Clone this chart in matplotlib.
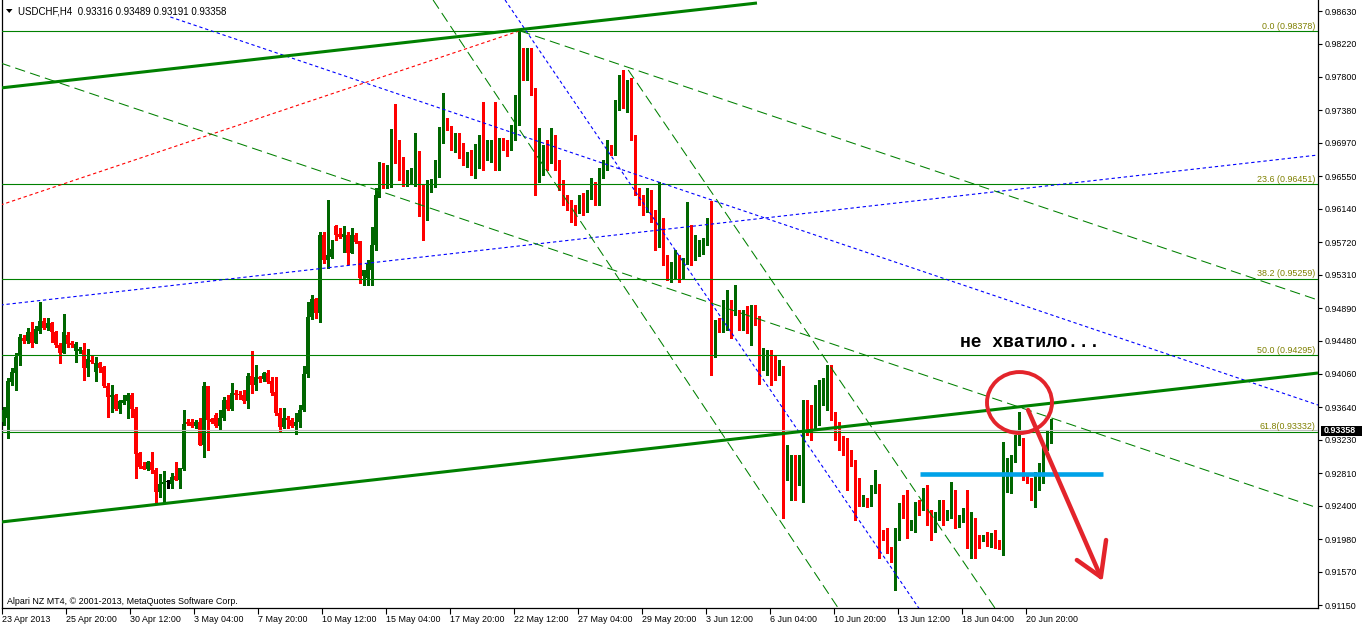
import matplotlib
matplotlib.use("Agg")
import matplotlib.pyplot as plt
from matplotlib.patches import Ellipse, Rectangle, Polygon
from matplotlib.transforms import blended_transform_factory
import numpy as np

# ---------------- data (USDCHF H4, prices in pips = 0.0001) ----------------
opens = [9345,9350,9396,9407,9428,9451,9447,9459,9445,9460,9473,9464,9470,9459,9442,9433,9455,9445,9435,9435,
         9436,9413,9423,9408,9420,9415,9391,9377,9379,9362,9370,9372,9379,9362,9306,9290,9286,9295,9285,9257,
         9267,9270,9268,9277,9273,9286,9345,9345,9341,9346,9317,9391,9349,9354,9340,9350,9373,9362,9382,9380,
         9380,9372,9403,9392,9402,9400,9407,9397,9383,9357,9339,9351,9348,9340,9345,9360,9406,9478,9500,9483,
         9581,9549,9553,9592,9582,9579,9581,9558,9581,9574,9529,9527,9537,9568,9630,9669,9641,9658,9693,9691,
         9678,9645,9651,9646,9685,9634,9614,9645,9646,9667,9698,9724,9715,9691,9703,9688,9676,9679,9660,9688,
         9697,9678,9676,9698,9678,9699,9694,9691,9707,9735,9813,9779,9813,9764,9659,9663,9688,9676,9701,9667,
         9647,9625,9619,9613,9613,9628,9615,9629,9644,9625,9659,9669,9691,9688,9745,9766,9747,9770,9704,9638,
         9624,9613,9635,9600,9591,9599,9547,9527,9531,9553,9531,9547,9591,9557,9558,9560,9571,9599,9450,9469,
         9463,9483,9494,9483,9484,9465,9483,9465,9487,9477,9415,9417,9432,9417,9407,9413,9287,9287,9289,9269,
         9298,9354,9354,9344,9346,9371,9367,9388,9352,9339,9323,9320,9305,9294,9269,9243,9247,9241,9260,9265,
         9203,9205,9186,9174,9199,9235,9230,9213,9215,9240,9238,9250,9228,9216,9226,9240,9226,9227,9257,9223,
         9223,9222,9193,9221,9201,9198,9201,9192,9199,9194,9189,9260,9260,9298,9319,9323,9276,9271,9266,9266,
         9279,9314,9331.6]
highs = [9365,9401,9413,9432,9456,9455,9464,9471,9466,9496,9476,9476,9471,9460,9445,9481,9459,9447,9446,9440,
         9445,9437,9430,9427,9421,9416,9394,9392,9381,9373,9379,9382,9382,9364,9308,9295,9296,9308,9287,9280,
         9284,9273,9281,9295,9287,9360,9349,9349,9348,9350,9396,9391,9351,9357,9360,9377,9379,9394,9386,9385,
         9386,9407,9435,9417,9404,9408,9411,9402,9402,9363,9363,9353,9350,9357,9367,9416,9496,9505,9502,9585,
         9585,9625,9575,9594,9590,9592,9585,9590,9584,9574,9537,9549,9591,9640,9673,9672,9669,9714,9746,9701,
         9679,9663,9665,9709,9687,9644,9650,9651,9675,9717,9760,9728,9718,9710,9710,9697,9686,9688,9696,9707,
         9749,9701,9701,9749,9703,9703,9701,9720,9757,9838,9817,9817,9817,9766,9716,9694,9701,9716,9707,9676,
         9650,9631,9625,9619,9631,9634,9638,9653,9648,9665,9676,9701,9694,9751,9783,9789,9776,9779,9707,9640,
         9631,9640,9638,9613,9648,9603,9556,9547,9562,9556,9552,9623,9594,9581,9575,9577,9603,9624,9474,9476,
         9499,9512,9499,9518,9487,9487,9492,9493,9493,9479,9439,9436,9436,9430,9424,9416,9316,9304,9304,9304,
         9373,9373,9367,9392,9399,9401,9417,9417,9358,9346,9328,9325,9310,9298,9275,9254,9250,9266,9285,9268,
         9210,9212,9188,9212,9243,9254,9260,9222,9245,9247,9262,9266,9235,9232,9247,9247,9235,9270,9260,9228,
         9237,9260,9232,9225,9203,9203,9207,9206,9210,9197,9320,9300,9304,9329,9358,9325,9280,9275,9283,9294,
         9317,9336,9348.9]
lows = [9342,9325,9392,9386,9417,9445,9445,9440,9445,9457,9462,9461,9446,9440,9420,9432,9440,9440,9421,9432,
        9399,9403,9420,9397,9408,9389,9352,9358,9360,9357,9368,9350,9352,9275,9287,9286,9285,9281,9243,9251,
        9245,9262,9262,9272,9263,9285,9342,9339,9338,9316,9302,9310,9344,9339,9335,9348,9360,9360,9375,9375,
        9369,9363,9382,9386,9396,9397,9394,9379,9354,9334,9338,9338,9339,9331,9339,9359,9402,9475,9476,9471,
        9546,9539,9552,9575,9577,9560,9545,9558,9571,9521,9518,9518,9518,9562,9629,9640,9640,9641,9672,9650,
        9643,9643,9646,9643,9605,9575,9600,9635,9641,9654,9697,9713,9688,9686,9678,9669,9667,9657,9653,9665,
        9663,9676,9673,9663,9663,9688,9681,9688,9701,9720,9776,9776,9757,9631,9648,9657,9663,9672,9663,9638,
        9619,9613,9597,9594,9609,9606,9610,9626,9619,9619,9653,9663,9682,9682,9739,9741,9736,9701,9631,9619,
        9606,9610,9597,9562,9566,9543,9524,9522,9527,9522,9527,9544,9543,9550,9555,9557,9568,9405,9427,9459,
        9459,9461,9451,9480,9461,9461,9457,9442,9468,9393,9411,9405,9392,9398,9405,9225,9272,9247,9247,9266,
        9245,9329,9323,9336,9342,9367,9361,9348,9323,9310,9304,9260,9290,9222,9240,9240,9238,9240,9256,9174,
        9197,9181,9169,9134,9197,9225,9199,9210,9207,9228,9235,9216,9197,9207,9222,9216,9222,9225,9212,9213,
        9220,9187,9174,9174,9187,9196,9189,9188,9187,9186,9178,9257,9256,9295,9317,9272,9269,9247,9238,9260,
        9269,9310,9319.1]
closes = [9360,9397,9408,9427,9452,9447,9459,9445,9462,9473,9464,9470,9459,9442,9432,9459,9444,9442,9444,9437,
          9413,9425,9421,9420,9413,9391,9377,9379,9362,9372,9373,9379,9362,9305,9289,9286,9295,9285,9257,9267,
          9270,9270,9276,9273,9287,9343,9343,9341,9346,9317,9391,9348,9345,9340,9351,9373,9362,9382,9379,9379,
          9372,9403,9392,9402,9400,9407,9396,9382,9357,9339,9351,9348,9340,9345,9360,9406,9478,9500,9483,9581,
          9549,9556,9563,9581,9579,9582,9558,9581,9572,9527,9537,9544,9568,9631,9669,9641,9658,9693,9691,9678,
          9650,9655,9655,9685,9634,9614,9645,9648,9665,9698,9724,9718,9691,9703,9688,9676,9679,9660,9694,9697,
          9681,9694,9694,9692,9699,9692,9691,9706,9732,9803,9779,9813,9762,9659,9688,9682,9669,9694,9667,9647,
          9623,9619,9604,9603,9628,9611,9631,9644,9625,9659,9669,9691,9687,9745,9766,9747,9770,9703,9635,9623,
          9613,9635,9600,9585,9599,9547,9527,9543,9553,9524,9547,9591,9547,9558,9561,9571,9599,9451,9469,9463,
          9483,9494,9483,9484,9465,9483,9465,9487,9477,9420,9430,9432,9407,9407,9413,9287,9301,9296,9269,9298,
          9338,9338,9339,9371,9371,9388,9388,9352,9333,9323,9307,9304,9294,9269,9243,9247,9242,9261,9265,9201,
          9201,9184,9174,9199,9235,9228,9213,9216,9240,9237,9250,9228,9202,9226,9240,9226,9227,9257,9223,9225,
          9230,9193,9221,9197,9197,9201,9192,9199,9193,9189,9275,9276,9298,9320,9323,9275,9271,9265,9269,9279,
          9314,9323,9335.8]
PIP = 1e-4

time_labels = ["23 Apr 2013", "25 Apr 20:00", "30 Apr 12:00", "3 May 04:00", "7 May 20:00",
               "10 May 12:00", "15 May 04:00", "17 May 20:00", "22 May 12:00", "27 May 04:00",
               "29 May 20:00", "3 Jun 12:00", "6 Jun 04:00", "10 Jun 20:00", "13 Jun 12:00",
               "18 Jun 04:00", "20 Jun 20:00"]
time_label_bars = [0, 16, 32, 48, 64, 80, 96, 112, 128, 144, 160, 176, 192, 208, 224, 240, 256]

price_ticks = [0.98630, 0.98220, 0.97800, 0.97380, 0.96970, 0.96550, 0.96140, 0.95720, 0.95310,
               0.94890, 0.94480, 0.94060, 0.93640, 0.93230, 0.92810, 0.92400, 0.91980, 0.91570, 0.91150]

fib_levels = [0.98378, 0.96451, 0.95259, 0.94295, 0.93332]
fib_labels = ["0.0 (0.98378)", "23.6 (0.96451)", "38.2 (0.95259)", "50.0 (0.94295)", "61.8(0.93332)"]

bid_price = 0.93358
title_text = "USDCHF,H4  0.93316 0.93489 0.93191 0.93358"
note_text = "не хватило..."

# drawn objects: (bar, price) anchor pairs
thick_trend_upper = [(-0.8, 0.97661), (188.4, 0.98731)]
thick_trend_lower = [(-0.8, 0.92195), (328.7, 0.94072)]
red_dotted = [(-0.8, 0.96187), (128.9, 0.98379)]
blue_dotted = [[(-0.8, 0.94928), (328.7, 0.96817)],
               [(41.7, 0.98555), (328.7, 0.93669)],
               [(125.4, 0.98769), (229.2, 0.91087)]]
green_dashed = [[(-0.8, 0.97976), (328.7, 0.92372)],
                [(129.2, 0.98379), (328.7, 0.94991)],
                [(107.4, 0.98769), (208.7, 0.91113)],
                [(156.2, 0.97888), (247.9, 0.91113)]]
blue_level = [(229.2, 0.92800), (274.9, 0.92800)]
circle_center = (254.05, 0.93700)
circle_size = (16.25, 0.00768)
arrow_shaft = [(256.2, 0.93606), (274.4, 0.91503)]
arrow_barbs = [[(268.4, 0.91717), (274.4, 0.91503)], [(275.7, 0.91969), (274.4, 0.91503)]]
note_pos = (239.2, 0.94462)

# ---------------- figure ----------------
plt.rcParams['font.family'] = ['Liberation Sans', 'DejaVu Sans']
W, H = 1362, 627
fig = plt.figure(figsize=(W / 100, H / 100), dpi=100)
ax_left, ax_right, ax_bottom = 2.3, 1318.0, 608.0
ax = fig.add_axes([ax_left / W, (H - ax_bottom) / H, (ax_right - ax_left) / W, ax_bottom / H])
ax.set_xlim(-0.25, 328.7)
ax.set_ylim(0.91113, 0.98769)

o = np.array(opens) * PIP
h = np.array(highs) * PIP
l = np.array(lows) * PIP
c = np.array(closes) * PIP
x = np.arange(len(o))
GREEN = '#006600'
RED = '#ff0000'
cols = np.where(c > o, GREEN, np.where(c < o, RED, '#000000'))
ax.vlines(x, l, h, colors=cols, lw=0.75, zorder=2, antialiased=False)
body_lo = np.minimum(o, c)
body_h = np.maximum(np.abs(c - o), 0.00012)
ax.bar(x, body_h, bottom=body_lo, width=0.8, color=cols, linewidth=0, zorder=3, antialiased=False)

LGREEN = '#008000'
for lv in fib_levels:
    ax.axhline(lv, color=LGREEN, lw=0.8, zorder=4)
ax.axhline(bid_price, color='#c0c0c0', lw=0.8, zorder=3.5)
tr = blended_transform_factory(ax.transAxes, ax.transData)
for lv, lab in zip(fib_levels, fib_labels):
    ax.text(1 - 3 / 1316, lv + 2.3 * 0.000126, lab, transform=tr, ha='right', va='baseline',
            fontsize=6.4, color='#7f8000', zorder=6)

def seg(pts, **kw):
    (x0, y0), (x1, y1) = pts
    ax.plot([x0, x1], [y0, y1], **kw)

seg(thick_trend_upper, color=LGREEN, lw=2.2, zorder=5, solid_capstyle='butt')
seg(thick_trend_lower, color=LGREEN, lw=2.2, zorder=5, solid_capstyle='butt')
seg(red_dotted, color='#ff0000', lw=0.8, dashes=(3, 2.5), zorder=4)
for p in blue_dotted:
    seg(p, color='#0000ff', lw=0.8, dashes=(3, 2.5), zorder=4)
for p in green_dashed:
    seg(p, color=LGREEN, lw=0.75, dashes=(10, 5), zorder=4)

seg(blue_level, color='#00a2e8', lw=3.3, zorder=6, solid_capstyle='butt')
RED2 = '#e3242b'
ax.add_patch(Ellipse(circle_center, circle_size[0], circle_size[1], fill=False,
                     edgecolor=RED2, lw=2.8, zorder=7))
seg(arrow_shaft, color=RED2, lw=3.2, zorder=7, solid_capstyle='round')
for b in arrow_barbs:
    seg(b, color=RED2, lw=3.2, zorder=7, solid_capstyle='round')

ax.text(note_pos[0], note_pos[1], note_text, fontsize=13, fontweight='bold',
        family=['Liberation Mono', 'DejaVu Sans Mono'], ha='left', va='center', zorder=8)

for s in ['left', 'right', 'bottom']:
    ax.spines[s].set_color('black')
    ax.spines[s].set_linewidth(0.9)
ax.spines['top'].set_visible(False)
ax.yaxis.tick_right()
ax.set_yticks(price_ticks)
ax.set_yticklabels([f"{p:.5f}" for p in price_ticks])
ax.tick_params(axis='y', which='both', direction='out', length=3, width=0.8, pad=2,
               labelsize=6.4, colors='black')
ax.set_xticks([b - 0.33 for b in time_label_bars])
ax.set_xticklabels(time_labels)
ax.tick_params(axis='x', direction='out', length=4, width=0.8, pad=1, labelsize=6.4)
for t in ax.get_xticklabels():
    t.set_ha('left')

fig.patches.append(Rectangle((1321 / W, 1 - 435.5 / H), 41 / W, 10 / H, transform=fig.transFigure,
                             facecolor='black', edgecolor='none', zorder=10))
fig.text(1324 / W, 1 - 430.5 / H, f"{bid_price:.5f}", color='white', fontsize=6.4,
         fontweight='bold', va='center', ha='left', zorder=11)

fig.patches.append(Polygon([[6 / W, 1 - 9 / H], [12.5 / W, 1 - 9 / H], [9.25 / W, 1 - 13 / H]],
                           closed=True, transform=fig.transFigure, facecolor='black', edgecolor='none'))
fig.text(18 / W, 1 - 11 / H, title_text, fontsize=7, va='center', ha='left', color='black')
fig.text(7 / W, 1 - 601 / H, "Alpari NZ MT4, © 2001-2013, MetaQuotes Software Corp.",
         fontsize=6.4, va='center', ha='left', color='black')

fig.savefig("out.png", dpi=100, facecolor='white')
